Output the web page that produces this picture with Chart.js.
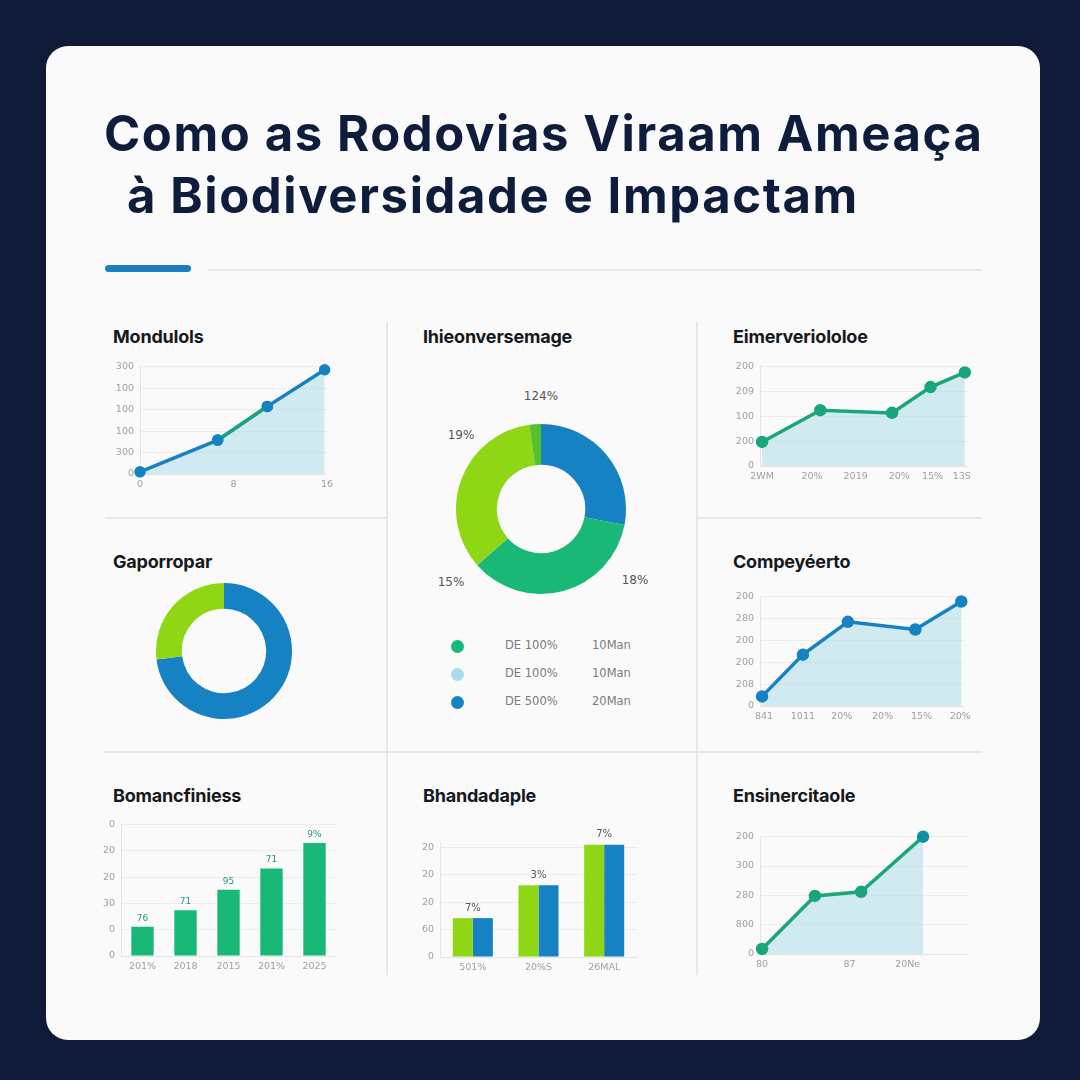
<!DOCTYPE html>
<html><head><meta charset="utf-8">
<script src="https://cdn.jsdelivr.net/npm/chart.js@4.4.1/dist/chart.umd.min.js"></script>
<style>
html,body{margin:0;padding:0;background:#0f1a38;width:1080px;height:1080px;overflow:hidden;font-family:Inter,"Noto Sans",sans-serif;}
#card{position:absolute;left:46px;top:46px;width:994px;height:994px;background:#fafafa;border-radius:22px;}
.abs{position:absolute;}
.h1{position:absolute;margin:0;font:700 49px Inter,sans-serif;color:#0f1d3d;line-height:62px;letter-spacing:1.6px;white-space:pre;}
.pt{position:absolute;font:700 18px Inter,sans-serif;color:#141820;letter-spacing:-0.2px;}
.ln{position:absolute;background:#e6e7e9;}
.dl{position:absolute;font:400 12px "DejaVu Sans",sans-serif;color:#555;}
.lg{position:absolute;font:400 11.5px "DejaVu Sans",sans-serif;color:#7a7a7a;}
.dot{position:absolute;width:13px;height:13px;border-radius:50%;}
canvas{position:absolute;}
</style></head>
<body>
<div id="card"></div>
<div class="h1" style="left:104px;top:103px">Como as Rodovias Viraam Ameaça</div>
<div class="h1" style="left:127px;top:165px">à Biodiversidade e Impactam</div>
<div class="abs" style="left:105px;top:265px;width:86px;height:7px;border-radius:4px;background:#1a80c2"></div>
<div class="ln" style="left:208px;top:269px;width:774px;height:2px"></div>

<div class="ln" style="left:386px;top:322px;width:2px;height:653px"></div>
<div class="ln" style="left:696px;top:322px;width:2px;height:653px"></div>
<div class="ln" style="left:105px;top:517px;width:282px;height:2px"></div>
<div class="ln" style="left:697px;top:517px;width:285px;height:2px"></div>
<div class="ln" style="left:105px;top:751px;width:877px;height:2px"></div>

<div class="pt" style="left:113px;top:326px">Mondulols</div>
<div class="pt" style="left:423px;top:326px">Ihieonversemage</div>
<div class="pt" style="left:733px;top:326px">Eimerveriololoe</div>
<div class="pt" style="left:113px;top:551px">Gaporropar</div>
<div class="pt" style="left:733px;top:551px">Compeyéerto</div>
<div class="pt" style="left:113px;top:785px">Bomancfiniess</div>
<div class="pt" style="left:423px;top:785px">Bhandadaple</div>
<div class="pt" style="left:733px;top:785px">Ensinercitaole</div>

<div id="extra"></div>

<canvas id="c1"></canvas><canvas id="c2"></canvas><canvas id="c3"></canvas><canvas id="c4"></canvas>
<canvas id="c5"></canvas><canvas id="c6"></canvas><canvas id="c7"></canvas><canvas id="c8"></canvas>

<script>
// ---------- DATA ----------
const BLUE='#1682c4', GREEN='#19b877', TEAL='#1aa57a', LIME='#8fd714', LIME2='#55c22a', LIGHT='#a8dcea', FILL='rgba(168,218,232,0.5)';

// Panel 1 "Mondulols"
const p1X=[0,6.65,10.9,15.8];
const p1Y=[0.1,1.58,3.15,4.86];
const p1XTicks=[0,8,16];
const p1XLabels=['0','8','16'];
const p1YLabels=['300','100','100','100','300','0']; // top -> bottom
const p1GreenSeg=[1,2]; // indices of the green segment

// Panel 2 donut "Ihieonversemage"
const p2Values=[28,35.5,34.3,2.2];
const p2Pcts=[{t:'124%',x:541,y:397},{t:'19%',x:461,y:436},{t:'15%',x:451,y:583},{t:'18%',x:635,y:581}];
const p2LegA=['DE 100%','DE 100%','DE 500%'];
const p2LegB=['10Man','10Man','20Man'];

// Panel 3 "Eimerveriololoe"
const p3X=[0.1,2.9,6.35,8.2,9.85];
const p3Y=[0.97,2.25,2.14,3.18,3.77];
const p3XTicks=[0.1,2.5,4.6,6.7,8.3,9.7];
const p3XLabels=['2WM','20%','2019','20%','15%','13S'];
const p3YLabels=['200','209','100','200','0'];

// Panel 4 donut "Gaporropar"
const p4Values=[73,27];

// Panel 5 "Compeyéerto"
const p5X=[0.1,2.1,4.3,7.6,9.85];
const p5Y=[0.44,2.35,3.85,3.5,4.78];
const p5XTicks=[0.2,2.1,4.0,6.0,7.9,9.8];
const p5XLabels=['841','1011','20%','20%','15%','20%'];
const p5YLabels=['200','280','200','200','208','0'];

// Panel 6 bars "Bomancfiniess"
const p6Cats=['201%','2018','2015','201%','2025'];
const p6Vals=[1.11,1.74,2.52,3.33,4.3];
const p6Tags=['76','71','95','71','9%'];
const p6YLabels=['0','20','20','30','0','0'];

// Panel 7 grouped bars "Bhandadaple"
const p7Cats=['501%','20%S','26MAL'];
const p7A=[1.42,2.62,4.1];
const p7B=[1.42,2.62,4.1];
const p7Tags=['7%','3%','7%'];
const p7YLabels=['20','20','20','60','0'];

// Panel 8 "Ensinercitaole"
const p8X=[0.1,2.64,4.86,7.84];
const p8Y=[0.17,1.98,2.12,4.0];
const p8XTicks=[0.1,4.3,7.1];
const p8XLabels=['80','87','20Ne'];
const p8YLabels=['200','300','280','800','0'];

// ---------- HELPERS ----------
const YW=30, XH=20, PR=8;
function place(id, box, pt){
  const c=document.getElementById(id);
  const w=box.r-box.l+YW+PR, h=box.b-box.t+pt+XH;
  c.style.left=(box.l-YW)+'px'; c.style.top=(box.t-pt)+'px';
  c.width=w; c.height=h; c.style.width=w+'px'; c.style.height=h+'px';
  return c;
}
const tickFont={family:'"DejaVu Sans", sans-serif', size:9.5};
function yScale(labels, max){
  const n=labels.length-1;
  return {type:'linear',min:0,max:max!==undefined?max:n,
    afterFit:s=>{s.width=YW;},
    afterBuildTicks:s=>{s.ticks=labels.map((_,i)=>({value:i}));},
    ticks:{color:'#a0a0a0',font:tickFont,padding:6,autoSkip:false,callback:(v)=>labels[labels.length-1-v]},
    grid:{color:'#ececec',drawTicks:false,lineWidth:1},
    border:{display:true,color:'#e4e4e4'}};
}
function xLinear(vals, labels, max){
  return {type:'linear',min:0,max:max,
    afterFit:s=>{s.height=XH;},
    afterBuildTicks:s=>{s.ticks=vals.map(v=>({value:v}));},
    ticks:{color:'#a0a0a0',font:tickFont,padding:5,autoSkip:false,maxRotation:0,callback:(v,i)=>labels[i]},
    grid:{display:false,drawTicks:false},
    border:{display:true,color:'#e4e4e4'}};
}
function lineChart(id, box, xs, ys, xTicks, xLabels, xMax, yLabels, color, pointColors, extra, pr){
  const PT=8;
  place(id, box, PT);
  const main={data:xs.map((x,i)=>({x:x,y:ys[i]})),borderColor:color,borderWidth:3.5,clip:false,
      backgroundColor:FILL,fill:'origin',tension:0,
      pointRadius:pr||4.5,pointBackgroundColor:pointColors||color,pointBorderColor:pointColors||color};
  const ds=extra?[extra,main]:[main];
  new Chart(document.getElementById(id),{
    type:'line',
    data:{datasets:ds},
    options:{animation:false,responsive:false,layout:{padding:{top:PT,right:PR,left:0,bottom:0}},
      plugins:{legend:{display:false},tooltip:{enabled:false}},
      scales:{x:xLinear(xTicks,xLabels,xMax),y:yScale(yLabels)}}
  });
}
const tagPlugin={id:'tags',afterDatasetsDraw(chart,args,opts){
  const ctx=chart.ctx; ctx.save();
  ctx.font=opts.font; ctx.fillStyle=opts.color; ctx.textAlign='center'; ctx.textBaseline='bottom';
  const metas=opts.group?[chart.getDatasetMeta(0),chart.getDatasetMeta(1)]:[chart.getDatasetMeta(0)];
  opts.tags.forEach((t,i)=>{
    let x, y;
    if(opts.group){const a=metas[0].data[i], b=metas[1].data[i]; x=(a.x+b.x)/2; y=Math.min(a.y,b.y);}
    else {const a=metas[0].data[i]; x=a.x; y=a.y;}
    ctx.fillText(t,x,y-opts.gap);
  });
  ctx.restore();
}};

// ---------- CHARTS ----------
lineChart('c1',{l:140,r:330,t:363,b:474},p1X,p1Y,p1XTicks,p1XLabels,16,p1YLabels,BLUE,null,
  {data:p1GreenSeg.map(i=>({x:p1X[i],y:p1Y[i]})),borderColor:TEAL,borderWidth:3.5,fill:false,clip:false,pointRadius:4,
   pointBackgroundColor:BLUE,pointBorderColor:BLUE,tension:0}, 4);
lineChart('c3',{l:760,r:968,t:363,b:466},p3X,p3Y,p3XTicks,p3XLabels,10,p3YLabels,TEAL);
lineChart('c5',{l:760,r:968,t:593,b:706},p5X,p5Y,p5XTicks,p5XLabels,10,p5YLabels,BLUE);
lineChart('c8',{l:760,r:968,t:833,b:954},p8X,p8Y,p8XTicks,p8XLabels,10,p8YLabels,TEAL,
  [TEAL,TEAL,TEAL,'#158fa8']);

// Donut 2
(function(){
  const c=document.getElementById('c2');
  c.style.left='454px';c.style.top='422px';c.width=174;c.height=174;c.style.width='174px';c.style.height='174px';
  new Chart(c,{type:'doughnut',
    data:{datasets:[{data:p2Values,backgroundColor:[BLUE,GREEN,LIME,LIME2],borderWidth:0}]},
    options:{animation:false,responsive:false,cutout:'52%',layout:{padding:2},plugins:{legend:{display:false},tooltip:{enabled:false}}}});
})();
// Donut 4
(function(){
  const c=document.getElementById('c4');
  c.style.left='154px';c.style.top='581px';c.width=140;c.height=140;c.style.width='140px';c.style.height='140px';
  new Chart(c,{type:'doughnut',
    data:{datasets:[{data:p4Values,backgroundColor:[BLUE,LIME],borderWidth:0}]},
    options:{animation:false,responsive:false,cutout:'62%',layout:{padding:2},plugins:{legend:{display:false},tooltip:{enabled:false}}}});
})();

// Bars 6
(function(){
  const box={l:121,r:336,t:821,b:956}, PT=8;
  place('c6',box,PT);
  new Chart(document.getElementById('c6'),{type:'bar',
    data:{labels:p6Cats,datasets:[{data:p6Vals,backgroundColor:GREEN,categoryPercentage:1,barPercentage:0.52}]},
    plugins:[tagPlugin],
    options:{animation:false,responsive:false,layout:{padding:{top:PT,right:PR}},
      plugins:{legend:{display:false},tooltip:{enabled:false},tags:{tags:p6Tags,font:'9px "DejaVu Sans", sans-serif',color:'#1f9a78',gap:4}},
      scales:{x:{afterFit:s=>{s.height=XH;},ticks:{color:'#a0a0a0',font:tickFont,padding:5,maxRotation:0},grid:{display:false,drawTicks:false},border:{color:'#e4e4e4'}},
        y:yScale(p6YLabels)}}});
})();
// Bars 7
(function(){
  const box={l:440,r:637,t:842,b:957}, PT=22;
  place('c7',box,PT);
  new Chart(document.getElementById('c7'),{type:'bar',
    data:{labels:p7Cats,datasets:[
      {data:p7A,backgroundColor:LIME,categoryPercentage:0.61,barPercentage:1},
      {data:p7B,backgroundColor:BLUE,categoryPercentage:0.61,barPercentage:1}]},
    plugins:[tagPlugin],
    options:{animation:false,responsive:false,layout:{padding:{top:PT,right:PR}},
      plugins:{legend:{display:false},tooltip:{enabled:false},tags:{tags:p7Tags,group:true,font:'10px "DejaVu Sans", sans-serif',color:'#555',gap:5}},
      scales:{x:{afterFit:s=>{s.height=XH;},ticks:{color:'#a0a0a0',font:tickFont,padding:5,maxRotation:0},grid:{display:false,drawTicks:false},border:{color:'#e4e4e4'}},
        y:yScale(p7YLabels,4.2)}}});
})();

// Donut 2 labels & legend (HTML text)
(function(){
  const ex=document.getElementById('extra');
  p2Pcts.forEach(p=>{
    const d=document.createElement('div');d.className='dl';d.textContent=p.t;
    d.style.left=(p.x-20)+'px';d.style.top=(p.y-8)+'px';d.style.width='40px';d.style.textAlign='center';ex.appendChild(d);
  });
  const cols=[GREEN,LIGHT,BLUE];
  p2LegA.forEach((t,i)=>{
    const y=646+i*28;
    const dot=document.createElement('div');dot.className='dot';dot.style.background=cols[i];
    dot.style.left='451px';dot.style.top=(y-6)+'px';ex.appendChild(dot);
    const a=document.createElement('div');a.className='lg';a.textContent=t;a.style.left='505px';a.style.top=(y-8)+'px';ex.appendChild(a);
    const b=document.createElement('div');b.className='lg';b.textContent=p2LegB[i];b.style.left='592px';b.style.top=(y-8)+'px';ex.appendChild(b);
  });
})();
</script>
</body></html>
